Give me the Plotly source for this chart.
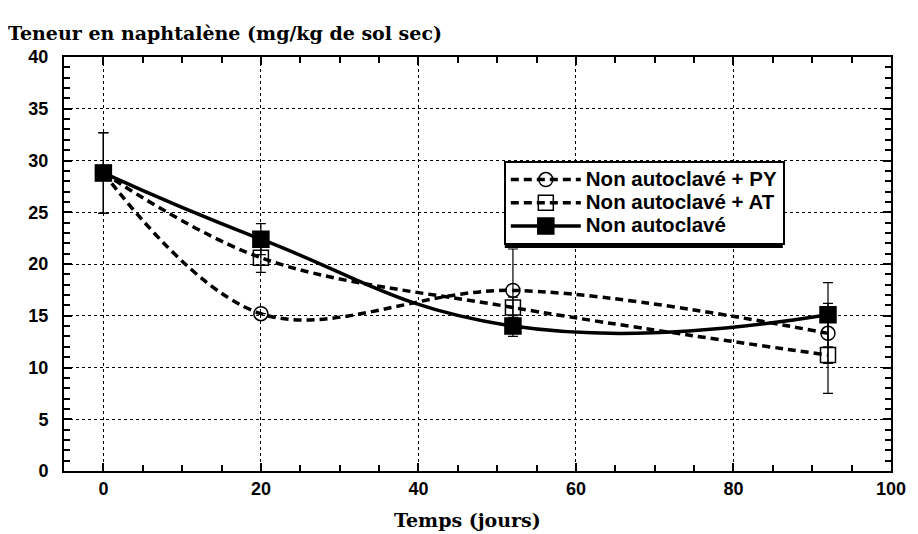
import plotly.graph_objects as go

days = [0, 20, 52, 92]
py_vals = [28.8, 15.2, 17.45, 13.3]
py_err = [3.9, 0.0, 4.0, 2.9]
at_vals = [28.8, 20.6, 15.8, 11.2]
at_err = [3.9, 1.4, 1.0, 3.7]
na_vals = [28.8, 22.4, 14.0, 15.1]
na_err = [3.9, 1.5, 1.0, 3.1]

names = ["Non autoclavé + PY", "Non autoclavé + AT", "Non autoclavé"]

# figure geometry (page has an 8px body margin)
W, H = 910, 526
L, R, T, B = 56, 21, 49, 63
PW, PH = W - L - R, H - T - B

def px2paper(x, y):
    return (x - L) / PW, (H - B - y) / PH

fig = go.Figure()

def add(vals, err, name, dash, symbol, size, smooth):
    fig.add_trace(go.Scatter(
        x=days, y=vals, name='<span style="font-size:20.5px">' + name + '</span>',
        mode="lines+markers",
        line=dict(color="black", width=3.5, dash=dash, shape="spline", smoothing=smooth),
        marker=dict(symbol=symbol, size=size, color="black",
                    line=dict(color="black", width=1.5)),
        error_y=dict(type="data", array=err, visible=True, color="black",
                     thickness=1.2, width=5),
    ))

add(py_vals, py_err, names[0], "8px,5px", "circle-open", 14, 1.0)
add(at_vals, at_err, names[1], "8px,5px", "square-open", 15, 1.0)
add(na_vals, na_err, names[2], "solid", "square", 16, 1.3)

axis_common = dict(
    showline=True, linecolor="black", linewidth=2, mirror="ticks",
    ticks="inside", ticklen=8, tickwidth=1.5, tickcolor="black",
    showgrid=True, gridcolor="black", gridwidth=1.3, griddash="dot",
    zeroline=False,
    tickfont=dict(family="Liberation Sans", size=18, color="black", weight="bold"),
)

fig.update_xaxes(range=[-5, 100], dtick=20, tick0=0, ticklabelstandoff=0,
                 minor=dict(dtick=5, ticks="inside", ticklen=6, tickcolor="black", showgrid=False),
                 **axis_common)
fig.update_yaxes(range=[0, 40], dtick=5, ticklabelstandoff=10,
                 minor=dict(dtick=1, ticks="inside", ticklen=6, tickcolor="black", showgrid=False),
                 **axis_common)

lx0, ly1 = px2paper(499, 153)
tx, ty = px2paper(-2, 25)
xx, xy = px2paper(462, 512)
# drop shadow of the legend box (pixel box in figure coordinates)
sx0, sy0 = px2paper(500, 158)
sx1, sy1 = px2paper(780, 240)

fig.update_layout(
    width=W, height=H,
    margin=dict(l=L, r=R, t=T, b=B),
    plot_bgcolor="white", paper_bgcolor="white",
    showlegend=True,
    legend=dict(x=lx0, y=ly1, xanchor="left", yanchor="top",
                bgcolor="white", bordercolor="black", borderwidth=2,
                font=dict(family="Liberation Sans", size=15.5, color="black", weight="bold"),
                tracegroupgap=0, itemwidth=70),
    annotations=[
        dict(text="<b>Teneur en naphtalène (mg/kg de sol sec)</b>", xref="paper", yref="paper",
             x=tx, y=ty, xanchor="left", yanchor="middle", showarrow=False,
             font=dict(family="DejaVu Serif", size=19, color="black")),
        dict(text="<b>Temps (jours)</b>", xref="paper", yref="paper",
             x=xx, y=xy, xanchor="center", yanchor="middle", showarrow=False,
             font=dict(family="DejaVu Serif", size=19, color="black")),
    ],
    shapes=[
        dict(type="rect", xref="paper", yref="paper", x0=sx0, x1=sx1, y0=sy1, y1=sy0,
             fillcolor="black", line=dict(width=0), layer="above"),
    ],
)

fig.write_html("out.html")
